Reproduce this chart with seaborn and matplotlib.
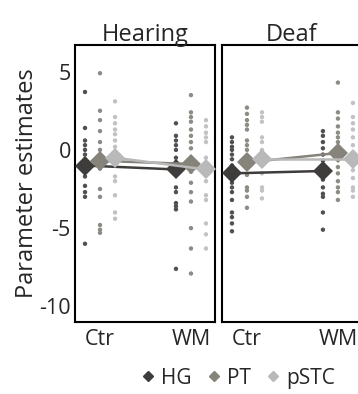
import seaborn as sns
import matplotlib.pyplot as plt
from matplotlib.lines import Line2D
import pandas as pd

# individual subject estimates
hear_ctr_hg = [3.7, 1.4, 0.6, 0.3, 0.0, -0.3, -0.6, -1.0, -1.4, -1.7, -2.3, -2.7, -3.0, -6.0]
hear_ctr_pt = [4.9, 2.5, 1.9, 1.2, 0.5, 0.0, -0.3, -0.7, -1.2, -2.5, -3.0, -4.8, -5.1, -5.3]
hear_ctr_pstc = [3.1, 2.1, 1.7, 1.3, 1.0, 0.6, 0.2, -0.3, -0.8, -1.7, -2.0, -2.9, -4.0, -4.4]
hear_wm_hg = [1.7, 0.9, 0.6, 0.3, 0.0, -0.5, -0.9, -1.2, -1.5, -2.4, -2.7, -3.4, -3.6, -3.8, -7.6]
hear_wm_pt = [3.5, 2.4, 2.1, 1.8, 1.3, 0.9, 0.5, 0.1, -0.6, -1.4, -2.1, -2.7, -3.3, -5.0, -6.3, -7.9]
hear_wm_pstc = [1.9, 1.5, 1.1, 0.8, 0.5, -0.5, -1.2, -2.0, -2.9, -3.2, -4.7, -5.4, -6.3]
deaf_ctr_hg = [0.8, 0.5, 0.2, 0.0, -0.3, -0.6, -1.0, -1.3, -1.7, -2.1, -2.4, -2.7, -3.2, -4.0, -4.3, -4.7, -5.2]
deaf_ctr_pt = [2.7, 2.3, 1.9, 1.6, 1.3, 0.6, 0.3, 0.0, -0.8, -1.6, -2.4, -2.6, -3.0, -3.7]
deaf_ctr_pstc = [2.4, 2.1, 1.8, 0.8, 0.5, 0.0, -0.5, -1.0, -1.5, -2.4, -2.6, -3.1]
deaf_wm_hg = [1.2, 0.9, 0.5, 0.1, -0.3, -0.7, -1.3, -1.9, -2.4, -2.8, -3.0, -4.0, -5.1]
deaf_wm_pt = [4.3, 2.4, 2.0, 1.5, 1.1, 0.8, 0.5, 0.2, -0.6, -1.1, -1.5, -2.0, -2.4, -2.7, -3.2]
deaf_wm_pstc = [3.0, 2.1, 1.7, 1.3, 0.8, 0.3, -0.6, -1.3, -1.8, -2.4, -2.6, -3.0]

# group means (diamonds), Ctr then WM
hear_mean_hg = [-1.0, -1.25]
hear_mean_pt = [-0.7, -0.9]
hear_mean_pstc = [-0.5, -1.25]
deaf_mean_hg = [-1.5, -1.35]
deaf_mean_pt = [-0.8, -0.2]
deaf_mean_pstc = [-0.6, -0.6]

groups = ["Hearing", "Deaf"]
conds = ["Ctr", "WM"]
rois = ["HG", "PT", "pSTC"]

mean_cols = {"HG": "#3f3d3c", "PT": "#86837b", "pSTC": "#b9b9b9"}
dot_cols = {"HG": "#505050", "PT": "#8e8b84", "pSTC": "#c2c2c2"}
offs = {"HG": -0.165, "PT": 0.0, "pSTC": 0.165}

subj = {
    ("Hearing", "Ctr"): [hear_ctr_hg, hear_ctr_pt, hear_ctr_pstc],
    ("Hearing", "WM"): [hear_wm_hg, hear_wm_pt, hear_wm_pstc],
    ("Deaf", "Ctr"): [deaf_ctr_hg, deaf_ctr_pt, deaf_ctr_pstc],
    ("Deaf", "WM"): [deaf_wm_hg, deaf_wm_pt, deaf_wm_pstc],
}
means = {
    "Hearing": [hear_mean_hg, hear_mean_pt, hear_mean_pstc],
    "Deaf": [deaf_mean_hg, deaf_mean_pt, deaf_mean_pstc],
}

rows = []
for (g, c), lists in subj.items():
    for r, vals in zip(rois, lists):
        for v in vals:
            rows.append({"group": g, "cond": c, "roi": r, "x": conds.index(c) + offs[r], "value": v})
pts = pd.DataFrame(rows)

rows = []
for g, lists in means.items():
    for r, vals in zip(rois, lists):
        for i, v in enumerate(vals):
            rows.append({"group": g, "roi": r, "x": i + offs[r], "value": v})
mns = pd.DataFrame(rows)

sns.set_style("white")
plt.rcParams["font.family"] = ["Open Sans", "DejaVu Sans"]

fig = plt.figure(figsize=(3.58, 3.94), dpi=100)
ax1 = fig.add_axes([0.2095, 0.1827, 0.391, 0.703])
ax2 = fig.add_axes([0.620, 0.1827, 0.391, 0.703])

for ax, g in zip([ax1, ax2], groups):
    sns.scatterplot(data=pts[pts.group == g], x="x", y="value", hue="roi", palette=dot_cols,
                    s=10, linewidth=0, legend=False, ax=ax, zorder=2)
    sns.lineplot(data=mns[mns.group == g], x="x", y="value", hue="roi", palette=mean_cols,
                 marker="D", markersize=10, markeredgewidth=0, linewidth=1.8,
                 legend=False, ax=ax, zorder=3)
    ax.set_xlim(-0.275, 1.264)
    ax.set_ylim(-11, 6.7)
    ax.set_xticks([0, 1])
    ax.set_xticklabels(conds, fontsize=15.5)
    ax.tick_params(axis="x", length=0, pad=5)
    ax.set_xlabel("")
    ax.set_ylabel("")
    ax.set_title(g, fontsize=17, pad=3)
    for sp in ax.spines.values():
        sp.set_visible(True)
        sp.set_color("black")
        sp.set_linewidth(1.5)

ax1.set_yticks([5, 0, -5, -10])
ax1.set_yticklabels(["5", "0", "-5", "-10"], fontsize=15.5)
ax1.tick_params(axis="y", length=2, direction="in", color="#999999", pad=3)
ax1.set_ylabel("Parameter estimates", fontsize=17, labelpad=0)
ax2.set_yticks([])

handles = [Line2D([], [], marker="D", color=mean_cols[r], linestyle="", markersize=5) for r in rois]
fig.legend(handles, rois, loc="center", bbox_to_anchor=(0.66, 0.04), ncol=3, frameon=False,
           fontsize=15, handletextpad=0.1, columnspacing=0.6, handlelength=1.0)

fig.savefig("out.png", dpi=100)
